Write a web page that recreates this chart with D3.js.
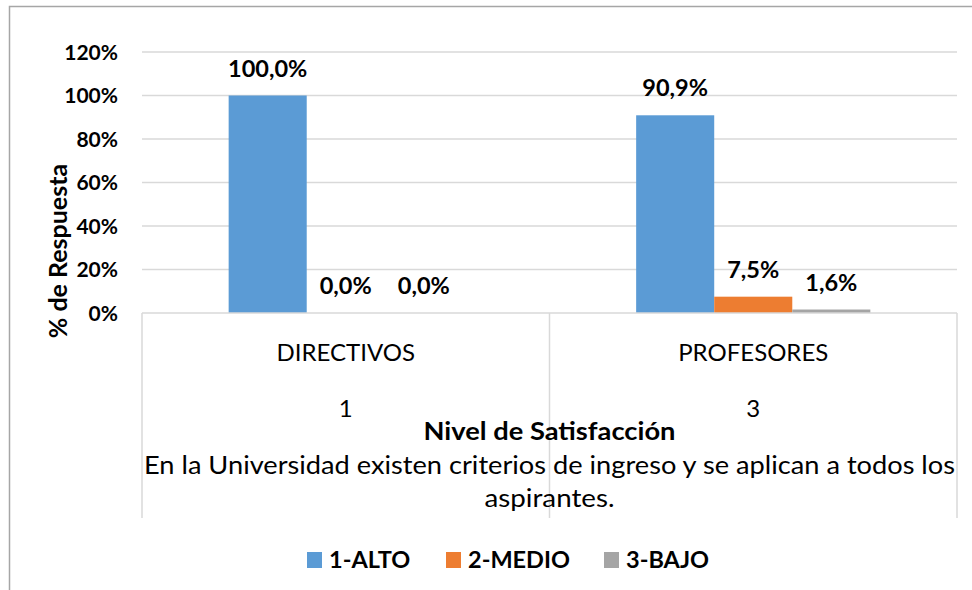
<!DOCTYPE html>
<html>
<head>
    <meta charset="utf-8">
    <title>Nivel de Satisfacción</title>
    <script src="https://cdn.jsdelivr.net/npm/d3@7"></script>
    <style>
        html, body {
            margin: 0;
            padding: 0;
            background-color: #fff;
        }
        svg {
            display: block;
            font-family: Lato, "Open Sans", sans-serif;
        }
        svg .grid line {
            stroke: #d9d9d9;
            stroke-width: 1.5;
        }
        svg .tick-label {
            font-size: 21px;
            font-weight: bold;
            text-anchor: end;
            fill: #000;
        }
        svg .value-label {
            font-size: 23.5px;
            font-weight: bold;
            text-anchor: middle;
            fill: #000;
        }
        svg .cat-label {
            font-size: 24px;
            text-anchor: middle;
            fill: #000;
        }
        svg .legend text {
            font-size: 23.5px;
            font-weight: bold;
            fill: #000;
        }
    </style>
</head>
<body>
<svg></svg>
<script>
    // data
    var categories = ['DIRECTIVOS', 'PROFESORES'];
    var subLabels = ['1', '3'];
    var series = ['1-ALTO', '2-MEDIO', '3-BAJO'];
    var colors = ['#5b9bd5', '#ed7d31', '#a5a5a5'];
    // one array per series, one value per category
    var alto = [1.000, 0.909];
    var medio = [0.000, 0.075];
    var bajo = [0.000, 0.016];
    var yTicks = [0, 0.2, 0.4, 0.6, 0.8, 1.0, 1.2];

    var w = 972,
        h = 590;

    var svg = d3.select('svg')
        .attr('width', w)
        .attr('height', h)
        .attr('viewBox', '0 0 ' + w + ' ' + h);

    // chart frame (cut on right and bottom like the picture)
    svg.append('path')
        .attr('d', 'M9.5,' + h + 'V6.5H' + w)
        .style('fill', 'none')
        .style('stroke', '#a6a6a6')
        .style('stroke-width', 1.5);

    var plot = { left: 142, right: 957, top: 52, bottom: 313 };

    var y = d3.scaleLinear()
        .domain([0, 1.2])
        .range([plot.bottom, plot.top]);

    var x0 = d3.scaleBand()
        .domain(categories)
        .range([plot.left, plot.right])
        .padding(0);

    var x1 = d3.scaleBand()
        .domain(series)
        .range([0, x0.bandwidth()])
        .paddingInner(0)
        .paddingOuter(1.11);

    // gridlines
    svg.append('g')
        .attr('class', 'grid')
        .selectAll('line')
        .data(yTicks.filter(function (d) { return d > 0; }))
        .enter().append('line')
        .attr('x1', plot.left)
        .attr('x2', plot.right)
        .attr('y1', function (d) { return y(d); })
        .attr('y2', function (d) { return y(d); });

    // y tick labels
    svg.append('g')
        .selectAll('text')
        .data(yTicks)
        .enter().append('text')
        .attr('class', 'tick-label')
        .attr('x', 118)
        .attr('y', function (d) { return y(d) + 7.5; })
        .text(d3.format('.0%'));

    // y axis title
    svg.append('text')
        .attr('transform', 'translate(67,251)rotate(-90)')
        .style('font-size', '25px')
        .style('font-weight', 'bold')
        .style('text-anchor', 'middle')
        .text('% de Respuesta');

    // bars
    var values = [alto, medio, bajo];
    var rows = [];
    series.forEach(function (s, si) {
        categories.forEach(function (c, ci) {
            rows.push({ cat: c, ser: s, si: si, v: values[si][ci] });
        });
    });

    var bars = svg.append('g');
    bars.selectAll('rect')
        .data(rows)
        .enter().append('rect')
        .attr('x', function (d) { return x0(d.cat) + x1(d.ser); })
        .attr('width', x1.bandwidth())
        .attr('y', function (d) { return y(d.v); })
        .attr('height', function (d) { return y(0) - y(d.v); })
        .style('fill', function (d) { return colors[d.si]; });

    function pct(v) {
        return (v * 100).toFixed(1).replace('.', ',') + '%';
    }

    bars.selectAll('text')
        .data(rows)
        .enter().append('text')
        .attr('class', 'value-label')
        .attr('x', function (d) { return x0(d.cat) + x1(d.ser) + x1.bandwidth() / 2; })
        .attr('y', function (d) { return y(d.v) - 19; })
        .text(function (d) { return pct(d.v); });

    // category axis box
    var axis = svg.append('g')
        .style('stroke', '#d9d9d9')
        .style('stroke-width', 1.5);
    axis.append('line')
        .attr('x1', plot.left).attr('x2', plot.right)
        .attr('y1', plot.bottom).attr('y2', plot.bottom);
    axis.selectAll('line.sep')
        .data([plot.left, x0(categories[1]), plot.right])
        .enter().append('line')
        .attr('class', 'sep')
        .attr('x1', function (d) { return d; })
        .attr('x2', function (d) { return d; })
        .attr('y1', plot.bottom)
        .attr('y2', 518);

    svg.append('g')
        .selectAll('text')
        .data(categories)
        .enter().append('text')
        .attr('class', 'cat-label')
        .attr('x', function (d) { return x0(d) + x0.bandwidth() / 2; })
        .attr('y', 361)
        .text(function (d) { return d; });

    svg.append('g')
        .selectAll('text')
        .data(subLabels)
        .enter().append('text')
        .attr('class', 'cat-label')
        .attr('x', function (d, i) { return x0(categories[i]) + x0.bandwidth() / 2; })
        .attr('y', 417)
        .text(function (d) { return d; });

    var mid = (plot.left + plot.right) / 2;

    svg.append('text')
        .attr('x', mid)
        .attr('y', 440)
        .attr('textLength', 252)
        .attr('lengthAdjust', 'spacingAndGlyphs')
        .style('font-size', '25px')
        .style('font-weight', 'bold')
        .style('text-anchor', 'middle')
        .text('Nivel de Satisfacción');

    svg.append('text')
        .attr('class', 'cat-label')
        .attr('x', mid)
        .attr('y', 474)
        .attr('textLength', 811)
        .attr('lengthAdjust', 'spacingAndGlyphs')
        .style('font-size', '25px')
        .text('En la Universidad existen criterios de ingreso y se aplican a todos los');

    svg.append('text')
        .attr('class', 'cat-label')
        .attr('x', mid)
        .attr('y', 507)
        .attr('textLength', 130)
        .attr('lengthAdjust', 'spacingAndGlyphs')
        .style('font-size', '25px')
        .text('aspirantes.');

    // legend
    var legendX = [307, 446, 604];
    var leg = svg.append('g')
        .attr('class', 'legend')
        .selectAll('g')
        .data(series)
        .enter().append('g')
        .attr('transform', function (d, i) { return 'translate(' + legendX[i] + ',552)'; });

    leg.append('rect')
        .attr('width', 15)
        .attr('height', 16)
        .style('fill', function (d, i) { return colors[i]; });

    leg.append('text')
        .attr('x', 22)
        .attr('y', 16)
        .text(function (d) { return d; });
</script>
</body>
</html>
